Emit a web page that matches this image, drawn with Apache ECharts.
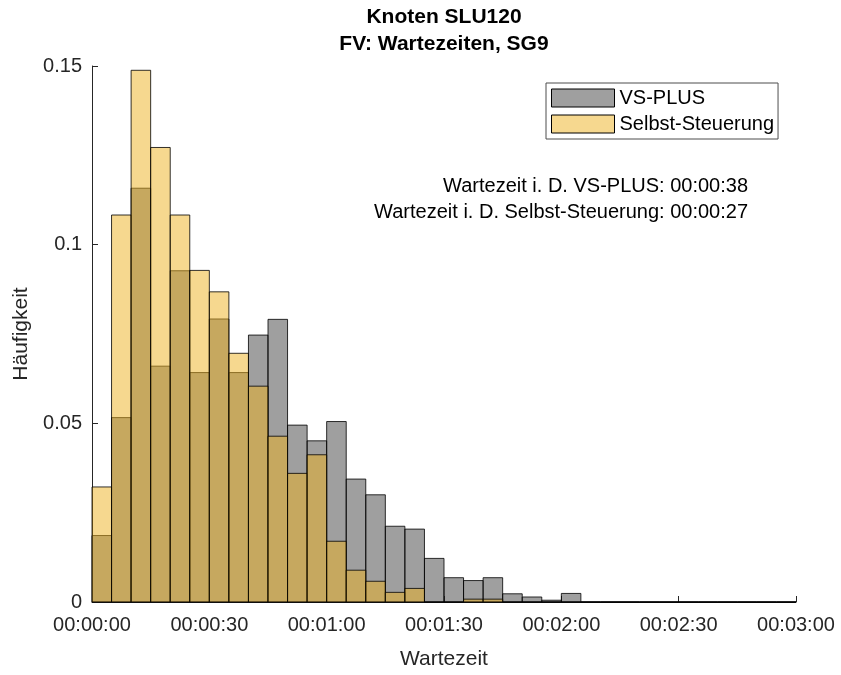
<!DOCTYPE html>
<html lang="de">
<head>
    <meta charset="UTF-8">
    <title>Knoten SLU120 - Wartezeiten SG9</title>
    <script src="https://cdn.jsdelivr.net/npm/echarts@6/dist/echarts.min.js"></script>
</head>
<body style="margin: 0">
<div id="main" style="width: 841px;height: 675px"></div>
</body>

<script>
    // bin width in seconds, bins start at 0, 5, 10, ...
    const binWidth = 5;
    const binStarts = [];
    for (let s = 0; s < 180; s += binWidth) binStarts.push(s);

    // relative frequency per bin
    const vsPlus = [0.0186, 0.0516, 0.1158, 0.0660, 0.0927, 0.0642, 0.0792, 0.0642, 0.0747, 0.0791,
        0.0495, 0.0451, 0.0505, 0.0344, 0.0300, 0.0212, 0.0204, 0.0122, 0.0068, 0.0060,
        0.0068, 0.0023, 0.0014, 0.0005, 0.0024, 0, 0, 0, 0, 0, 0, 0, 0, 0, 0, 0];
    const selbstSteuerung = [0.0322, 0.1083, 0.1488, 0.1272, 0.1083, 0.0928, 0.0868, 0.0696, 0.0604, 0.0464,
        0.0360, 0.0412, 0.0170, 0.0089, 0.0058, 0.0027, 0.0038, 0, 0, 0.0008,
        0.0008, 0, 0, 0, 0, 0, 0, 0, 0, 0, 0, 0, 0, 0, 0, 0];

    const xTicks = [0, 30, 60, 90, 120, 150, 180];
    const yTicks = [0, 0.05, 0.1, 0.15];
    const meanLines = [
        'Wartezeit i. D. VS-PLUS: 00:00:38',
        'Wartezeit i. D. Selbst-Steuerung: 00:00:27'
    ];

    const font = "'Liberation Sans', Arial, sans-serif";
    const grayFill = 'rgba(64, 64, 64, 0.5)';
    const yellowFill = 'rgba(237, 177, 32, 0.5)';

    function toClock(sec) {
        const h = Math.floor(sec / 3600);
        const m = Math.floor((sec % 3600) / 60);
        const s = sec % 60;
        return [h, m, s].map(v => String(v).padStart(2, '0')).join(':');
    }

    function renderBin(params, api) {
        const start = api.value(0);
        const top = api.coord([start, api.value(1)]);
        const bottom = api.coord([start + binWidth, 0]);
        return {
            type: 'rect',
            shape: {x: top[0], y: top[1], width: bottom[0] - top[0], height: bottom[1] - top[1]},
            style: {fill: api.visual('color'), stroke: 'rgba(0,0,0,0.8)', lineWidth: 1}
        };
    }

    const chartDom = document.getElementById('main');
    const myChart = echarts.init(chartDom);

    let option = {
        animation: false,
        title: {
            text: 'Knoten SLU120\nFV: Wartezeiten, SG9',
            left: 444,
            textAlign: 'center',
            top: 4,
            padding: 0,
            textStyle: {fontFamily: font, fontSize: 21, fontWeight: 'bold', color: '#000', lineHeight: 27}
        },
        legend: {
            orient: 'vertical',
            left: 546,
            top: 83,
            padding: [5, 4, 5, 5],
            itemGap: 6,
            itemWidth: 63,
            itemHeight: 18,
            icon: 'rect',
            borderColor: '#4d4d4d',
            borderWidth: 1,
            textStyle: {fontFamily: font, fontSize: 20, color: '#000', lineHeight: 20},
            data: [
                {name: 'VS-PLUS', itemStyle: {color: grayFill, borderColor: '#000', borderWidth: 1}},
                {name: 'Selbst-Steuerung', itemStyle: {color: yellowFill, borderColor: '#000', borderWidth: 1}}
            ]
        },
        grid: {left: 92, right: 45, top: 66, bottom: 72},
        xAxis: {
            type: 'value',
            min: xTicks[0],
            max: xTicks[xTicks.length - 1],
            interval: 30,
            name: 'Wartezeit',
            nameLocation: 'middle',
            nameGap: 47,
            nameTextStyle: {fontFamily: font, fontSize: 21, color: '#262626'},
            axisLine: {lineStyle: {color: '#262626'}},
            axisTick: {inside: true, length: 6, lineStyle: {color: '#262626'}},
            axisLabel: {fontFamily: font, fontSize: 20, color: '#262626', margin: 13, formatter: v => toClock(v)},
            splitLine: {show: false}
        },
        yAxis: {
            type: 'value',
            min: yTicks[0],
            max: yTicks[yTicks.length - 1],
            interval: 0.05,
            name: 'Häufigkeit',
            nameLocation: 'middle',
            nameGap: 58,
            nameTextStyle: {fontFamily: font, fontSize: 21, color: '#262626'},
            axisLine: {show: true, lineStyle: {color: '#262626'}},
            axisTick: {show: true, inside: true, length: 6, lineStyle: {color: '#262626'}},
            axisLabel: {fontFamily: font, fontSize: 20, color: '#262626', margin: 10},
            splitLine: {show: false}
        },
        graphic: meanLines.map((t, i) => ({
            type: 'text',
            right: 93,
            top: 176 + i * 26,
            style: {text: t, fontFamily: font, fontSize: 20, fill: '#000'}
        })),
        series: [
            {
                name: 'VS-PLUS',
                type: 'custom',
                renderItem: renderBin,
                itemStyle: {color: grayFill},
                data: binStarts.map((s, i) => [s, vsPlus[i]])
            },
            {
                name: 'Selbst-Steuerung',
                type: 'custom',
                renderItem: renderBin,
                itemStyle: {color: yellowFill},
                data: binStarts.map((s, i) => [s, selbstSteuerung[i]])
            }
        ]
    };

    option && myChart.setOption(option);
</script>

</html>
